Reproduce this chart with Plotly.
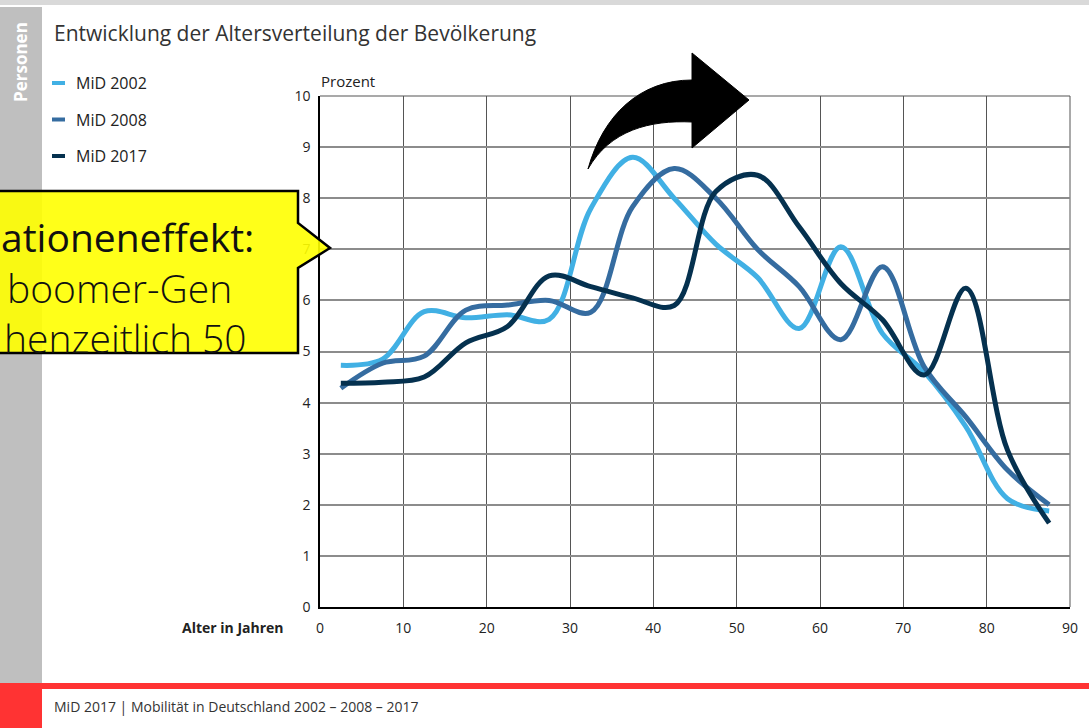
import plotly.graph_objects as go

# ---------------- data ----------------
ages = [2.5, 7.5, 12.5, 17.5, 22.5, 27.5, 32.5, 37.5, 42.5, 47.5,
        52.5, 57.5, 62.5, 67.5, 72.5, 77.5, 82.5, 87.5]
mid2002 = [4.73, 4.85, 5.78, 5.66, 5.72, 5.63, 7.8, 8.8, 8.0, 7.1,
           6.45, 5.45, 7.05, 5.35, 4.6, 3.53, 2.12, 1.88]
mid2008 = [4.28, 4.77, 4.91, 5.81, 5.91, 6.0, 5.77, 7.83, 8.58, 8.0,
           7.0, 6.27, 5.23, 6.66, 4.7, 3.72, 2.68, 2.0]
mid2017 = [4.38, 4.4, 4.5, 5.17, 5.49, 6.48, 6.27, 6.05, 5.9, 8.13,
           8.45, 7.44, 6.33, 5.62, 4.54, 6.24, 3.07, 1.64]
series_names = ["MiD 2002", "MiD 2008", "MiD 2017"]
series_colors = ["#41b0e4", "#356ca0", "#05314f"]
x_ticks = [0, 10, 20, 30, 40, 50, 60, 70, 80, 90]
y_ticks = list(range(0, 11))

title_text = "Entwicklung der Altersverteilung der Bevölkerung"
side_text = "Personen"
footer_text = "MiD 2017 | Mobilität in Deutschland 2002 – 2008 – 2017"
callout_lines = ["ationeneffekt:", "boomer-Gen", "henzeitlich 50"]

# ---------------- layout geometry (pixels) ----------------
W, H = 1089, 728
L, R, T, B = 320, 1070, 96, 607
FONT = "Open Sans"


def px(x):
    return (x - L) / (R - L)


def py(y):
    return (B - y) / (B - T)


def path(cmds):
    out = []
    for c in cmds:
        if isinstance(c, str):
            out.append(c)
        else:
            out.append(f"{px(c[0]):.5f},{py(c[1]):.5f}")
    return " ".join(out)


fig = go.Figure()
for name, vals, col in zip(series_names, [mid2002, mid2008, mid2017], series_colors):
    fig.add_trace(go.Scatter(
        x=ages, y=vals, name=name, mode="lines",
        line=dict(color=col, width=5, shape="spline", smoothing=1.0),
        showlegend=False, hoverinfo="x+y+name"))

shapes = []
# page decoration
shapes.append(dict(type="rect", xref="paper", yref="paper", layer="below",
                   x0=px(0), x1=px(W), y0=py(0), y1=py(5),
                   fillcolor="#d9d9d9", line=dict(width=0)))
shapes.append(dict(type="rect", xref="paper", yref="paper", layer="below",
                   x0=px(0), x1=px(42), y0=py(7), y1=py(683),
                   fillcolor="#bfbfbf", line=dict(width=0)))
shapes.append(dict(type="rect", xref="paper", yref="paper", layer="below",
                   x0=px(0), x1=px(W), y0=py(683), y1=py(689),
                   fillcolor="#ff3333", line=dict(width=0)))
shapes.append(dict(type="rect", xref="paper", yref="paper", layer="below",
                   x0=px(0), x1=px(42), y0=py(683), y1=py(H),
                   fillcolor="#ff3333", line=dict(width=0)))
# plot frame top / right
shapes.append(dict(type="line", xref="paper", yref="paper", layer="below",
                   x0=0, x1=1, y0=1, y1=1, line=dict(color="#8c8c8c", width=1.5)))
shapes.append(dict(type="line", xref="paper", yref="paper", layer="below",
                   x0=1, x1=1, y0=0, y1=1, line=dict(color="#555555", width=1)))
# legend samples
for i, col in enumerate(series_colors):
    yy = 83 + i * 36.5
    shapes.append(dict(type="line", xref="paper", yref="paper",
                       x0=px(52), x1=px(65), y0=py(yy), y1=py(yy),
                       line=dict(color=col, width=4)))
# black curved arrow
shapes.append(dict(type="path", xref="paper", yref="paper", layer="above",
                   path=path(["M", (588, 169), "C", (603, 115), (640, 80), (692, 80),
                              "L", (692, 53), "L", (749, 100), "L", (692, 148),
                              "L", (692, 122), "C", (650, 120), (610, 130), (588, 169), "Z"]),
                   fillcolor="black", line=dict(color="black", width=1)))
# yellow callout
shapes.append(dict(type="path", xref="paper", yref="paper", layer="above",
                   path=path(["M", (-6, 191), "L", (298, 191), "L", (298, 223),
                              "L", (330, 248), "L", (298, 268), "L", (298, 353),
                              "L", (-6, 353), "Z"]),
                   fillcolor="rgba(255,255,0,0.9)", line=dict(color="black", width=2.5)))

ann = []
ann.append(dict(text=title_text, x=px(52), y=py(33), xref="paper", yref="paper",
                xanchor="left", yanchor="middle", showarrow=False,
                font=dict(family=FONT, size=21, color="#333333")))
ann.append(dict(text=f"<b>{side_text}</b>", x=px(21), y=py(62), xref="paper", yref="paper",
                xanchor="center", yanchor="middle", showarrow=False, textangle=-90,
                font=dict(family=FONT, size=17, color="#ffffff")))
for i, name in enumerate(series_names):
    ann.append(dict(text=name, x=px(74), y=py(83 + i * 36.5), xref="paper", yref="paper",
                    xanchor="left", yanchor="middle", showarrow=False,
                    font=dict(family=FONT, size=16, color="#222222")))
ann.append(dict(text="Prozent", x=px(319), y=py(81), xref="paper", yref="paper",
                xanchor="left", yanchor="middle", showarrow=False,
                font=dict(family=FONT, size=15, color="#222222")))
ann.append(dict(text="<b>Alter in Jahren</b>", x=px(286), y=py(627), xref="paper", yref="paper",
                xanchor="right", yanchor="middle", showarrow=False,
                font=dict(family=FONT, size=14, color="#222222")))
ann.append(dict(text=footer_text, x=px(52), y=py(706), xref="paper", yref="paper",
                xanchor="left", yanchor="middle", showarrow=False,
                font=dict(family=FONT, size=14, color="#333333")))
for txt, xr, yc, wt in zip(callout_lines, [256, 234, 249], [236, 287, 337], [400, 350, 350]):
    ann.append(dict(text=txt, x=px(xr), y=py(yc), xref="paper", yref="paper",
                    xanchor="right", yanchor="middle", showarrow=False,
                    font=dict(family=FONT, size=39, color="#111111", weight=wt)))

fig.update_layout(
    width=W, height=H, autosize=False,
    margin=dict(l=L, r=W - R, t=T, b=H - B, pad=0),
    paper_bgcolor="white", plot_bgcolor="white",
    shapes=shapes, annotations=ann, showlegend=False,
    xaxis=dict(range=[0, 90], tickvals=x_ticks, showgrid=True, gridcolor="#555555",
               gridwidth=1, showline=True, linecolor="black", linewidth=1.5,
               zeroline=False, ticks="outside", ticklen=7, tickcolor="rgba(0,0,0,0)",
               tickfont=dict(family=FONT, size=14, color="#222222"), fixedrange=True),
    yaxis=dict(range=[0, 10], tickvals=y_ticks, showgrid=True, gridcolor="#8c8c8c",
               gridwidth=1.5, showline=True, linecolor="black", linewidth=1.5,
               zeroline=False, ticks="outside", ticklen=5, tickcolor="rgba(0,0,0,0)",
               tickfont=dict(family=FONT, size=14, color="#222222"), fixedrange=True),
)

fig.write_html("out.html", config={"displayModeBar": False},
               post_script="document.body.style.margin='0';document.body.style.overflow='hidden';")
